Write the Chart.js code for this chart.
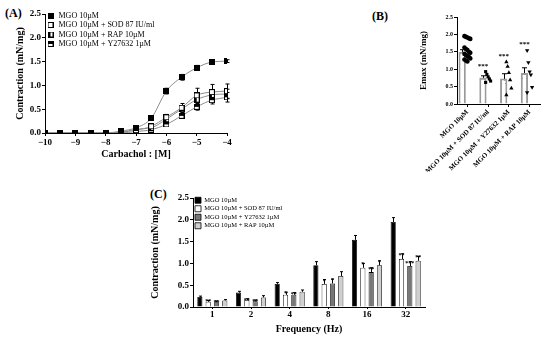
<!DOCTYPE html>
<html>
<head>
<meta charset="utf-8">
<script src="https://cdn.jsdelivr.net/npm/chart.js@4.4.0/dist/chart.umd.min.js"></script>
<style>
  body { margin: 0; width: 550px; height: 338px; position: relative; overflow: hidden; background: #fff; font-family: 'Liberation Serif', 'Times New Roman', serif; }
  canvas { position: absolute; }
  .tag { position: absolute; font-weight: bold; font-size: 12px; line-height: 12px; }
</style>
</head>
<body>
<div class="tag" style="left:5px;top:7px">(A)</div>
<div class="tag" style="left:372px;top:10px">(B)</div>
<div class="tag" style="left:150px;top:188px">(C)</div>
<canvas id="chartA" width="240" height="162" style="left:0;top:0"></canvas>
<canvas id="chartB" width="180" height="172" style="left:370px;top:0"></canvas>
<canvas id="chartC" width="310" height="153" style="left:130px;top:185px"></canvas>
<script>
// ---- panel A: concentration-response curves ----
const concA = [-10, -9.5, -9, -8.5, -8, -7.5, -7, -6.5, -6, -5.5, -5, -4.5, -4];
const mgoA = [0, 0, 0, 0, 0, 0.04, 0.11, 0.31, 0.88, 1.17, 1.37, 1.49, 1.51];
const mgoAErr = [0, 0, 0, 0, 0.01, 0.02, 0.03, 0.04, 0.06, 0.06, 0.05, 0.03, 0.03];
const sodA = [0, 0, 0, 0, 0, 0.02, 0.06, 0.14, 0.33, 0.53, 0.79, 0.86, 0.88];
const sodAErr = [0, 0, 0, 0, 0, 0.01, 0.02, 0.04, 0.06, 0.09, 0.15, 0.16, 0.15];
const rapA = [0, 0, 0, 0, 0, 0.01, 0.08, 0.11, 0.29, 0.5, 0.7, 0.8, 0.82];
const rapAErr = [0, 0, 0, 0, 0, 0.01, 0.02, 0.03, 0.05, 0.07, 0.1, 0.1, 0.1];
const y276A = [0, 0, 0, 0, 0, 0, 0.03, 0.07, 0.18, 0.36, 0.55, 0.69, 0.75];
const y276AErr = [0, 0, 0, 0, 0, 0, 0.01, 0.02, 0.04, 0.05, 0.07, 0.08, 0.1];

// ---- panel B: Emax per group ----
const groupsB = ['MGO 10µM', 'MGO 10µM + SOD 87 IU/ml', 'MGO 10µM + Y27632 1µM', 'MGO 10µM + RAP 10µM'];
const meanB = [1.5, 0.76, 0.73, 0.89];
const semB = [0.06, 0.05, 0.14, 0.15];
const ptsMgoB = [1.95, 1.93, 1.91, 1.89, 1.87, 1.62, 1.58, 1.55, 1.5, 1.47, 1.44, 1.41, 1.38, 1.35, 1.31, 1.28, 1.25, 1.22];
const ptsSodB = [0.93, 0.85, 0.78, 0.72, 0.66, 0.62];
const ptsY276B = [1.21, 1.08, 0.9, 0.69, 0.45, 0.26];
const ptsRapB = [1.54, 1.19, 0.93, 0.84, 0.48, 0.33];
const starsB = ['', '***', '***', '***'];

// ---- panel C: frequency response ----
const freqC = ['1', '2', '4', '8', '16', '32'];
const mgoC = [0.23, 0.33, 0.53, 0.96, 1.54, 1.95];
const mgoCErr = [0.02, 0.03, 0.03, 0.08, 0.1, 0.1];
const sodC = [0.12, 0.16, 0.28, 0.53, 0.9, 1.1];
const sodCErr = [0.03, 0.03, 0.06, 0.1, 0.1, 0.12];
const y276C = [0.11, 0.13, 0.28, 0.54, 0.8, 0.94];
const y276CErr = [0.03, 0.03, 0.05, 0.1, 0.1, 0.1];
const rapC = [0.15, 0.22, 0.35, 0.71, 0.96, 1.06];
const rapCErr = [0.02, 0.04, 0.04, 0.1, 0.1, 0.1];
const sodCStars = ['**', '**', '*', '*', '*', '**'];
const y276CStars = ['**', '**', '**', '*', '**', '***'];
const rapCStars = ['', '', '', '', '*', '**'];

const SERIF = "'Liberation Serif', 'Times New Roman', serif";
Chart.defaults.font.family = SERIF;
Chart.defaults.color = '#000';

// small square markers like the prism symbols
function marker(kind) {
    const s = 6;
    const c = document.createElement('canvas');
    c.width = s; c.height = s;
    const g = c.getContext('2d');
    g.fillStyle = '#fff';
    g.fillRect(0, 0, s, s);
    g.fillStyle = '#000';
    if (kind === 'filled') g.fillRect(0, 0, s, s);
    if (kind === 'half') g.fillRect(0, 0, 3, s);
    if (kind === 'band') g.fillRect(0, 0, s, 3);
    g.strokeStyle = '#000';
    g.lineWidth = 1;
    g.strokeRect(0.5, 0.5, s - 1, s - 1);
    return c;
}

function valueOf(d) {
    return (d !== null && typeof d === 'object') ? d.y : d;
}

// error bars drawn through the y scale
const errorBars = {
    id: 'errorBars',
    beforeDatasetsDraw(chart) {
        const ctx = chart.ctx;
        chart.data.datasets.forEach((ds, i) => {
            if (!ds.errors) return;
            const meta = chart.getDatasetMeta(i);
            const ys = chart.scales[meta.yAxisID];
            const cap = ds.errorCap || 2;
            ctx.save();
            ctx.strokeStyle = ds.errorColor || '#000';
            ctx.lineWidth = 1;
            meta.data.forEach((el, j) => {
                const err = ds.errors[j];
                if (!err) return;
                const v = valueOf(ds.data[j]);
                const x = Math.round(el.x) + 0.5;
                const top = ys.getPixelForValue(v + err);
                const bottom = ds.errorUp ? ys.getPixelForValue(v) : ys.getPixelForValue(Math.max(0, v - err));
                ctx.beginPath();
                ctx.moveTo(x, top);
                ctx.lineTo(x, bottom);
                ctx.moveTo(x - cap, top);
                ctx.lineTo(x + cap, top);
                if (!ds.errorUp) {
                    ctx.moveTo(x - cap, bottom);
                    ctx.lineTo(x + cap, bottom);
                }
                ctx.stroke();
            });
            ctx.restore();
        });
    }
};

// significance asterisks
const starMarks = {
    id: 'starMarks',
    afterDatasetsDraw(chart) {
        const ctx = chart.ctx;
        chart.data.datasets.forEach((ds, i) => {
            if (!ds.stars) return;
            const meta = chart.getDatasetMeta(i);
            const ys = chart.scales[meta.yAxisID];
            ctx.save();
            ctx.fillStyle = '#000';
            ctx.font = 'bold ' + (ds.starSize || 7) + 'px ' + SERIF;
            ctx.textAlign = 'center';
            ctx.textBaseline = 'alphabetic';
            meta.data.forEach((el, j) => {
                const s = ds.stars[j];
                if (!s) return;
                const base = ds.starBase ? ds.starBase[j] : valueOf(ds.data[j]) + (ds.errors ? ds.errors[j] : 0);
                ctx.fillText(s, el.x, ys.getPixelForValue(base) + (ds.starShift || 0));
            });
            ctx.restore();
        });
    }
};

// nudge the in-plot legend
const legendNudge = {
    id: 'legendNudge',
    beforeDraw(chart, args, opts) {
        if (chart.legend && opts.dy !== undefined) {
            const h = chart.legend.bottom - chart.legend.top;
            chart.legend.top = chart.chartArea.top + opts.dy;
            chart.legend.bottom = chart.legend.top + h;
        }
    }
};

function axisStyle(size) {
    return {
        grid: { drawOnChartArea: false, color: '#000', tickLength: 3 },
        border: { color: '#000', width: 1 },
        ticks: { font: { size: size, weight: 'bold' }, padding: 1 }
    };
}

// ---------- A ----------
function curve(label, values, errs, kind) {
    return {
        label: label,
        data: concA.map((c, i) => ({ x: c, y: values[i] })),
        errors: errs,
        borderColor: '#8c8c8c',
        borderWidth: 1,
        pointStyle: marker(kind),
        cubicInterpolationMode: 'monotone',
        fill: false
    };
}

const axA = axisStyle(9);
const ayA = axisStyle(9);
new Chart(document.getElementById('chartA'), {
    type: 'line',
    data: {
        datasets: [
            curve('MGO 10µM', mgoA, mgoAErr, 'filled'),
            curve('MGO 10µM + SOD 87 IU/ml', sodA, sodAErr, 'open'),
            curve('MGO 10µM + RAP 10µM', rapA, rapAErr, 'half'),
            curve('MGO 10µM + Y27632 1µM', y276A, y276AErr, 'band')
        ]
    },
    options: {
        responsive: false,
        animation: false,
        events: [],
        layout: { padding: { left: 8, top: 14, right: 13, bottom: 0 } },
        scales: {
            x: Object.assign(axA, {
                type: 'linear', min: -10, max: -4,
                ticks: Object.assign(axA.ticks, {
                    stepSize: 1,
                    callback: v => (v < 0 ? '\u2212' + Math.abs(v) : String(v))
                }),
                title: { display: true, text: 'Carbachol : [M]', font: { size: 10, weight: 'bold' }, padding: { top: 0, bottom: 2 } },
                afterFit(s) { s.height = 29; }
            }),
            y: Object.assign(ayA, {
                min: 0, max: 2.5,
                ticks: Object.assign(ayA.ticks, { stepSize: 0.5, callback: v => v.toFixed(1) }),
                title: { display: true, text: 'Contraction (mN/mg)', font: { size: 10, weight: 'bold' }, padding: { top: 6, bottom: 0 } },
                afterFit(s) { s.width = 37; }
            })
        },
        plugins: {
            legend: {
                position: 'chartArea', align: 'start',
                labels: { usePointStyle: true, boxWidth: 8, padding: 1.5, font: { size: 8 } }
            },
            legendNudge: { dy: -4 },
            tooltip: { enabled: false }
        }
    },
    plugins: [errorBars, legendNudge]
});

// ---------- B ----------
function spread(values, g, w) {
    return values.map((v, k) => ({ x: g + ((k % 5) - 2) * w, y: v }));
}

const axB = axisStyle(6);
const ayB = axisStyle(6);
new Chart(document.getElementById('chartB'), {
    data: {
        labels: groupsB,
        datasets: [
            {
                type: 'bar', data: meanB, errors: semB, errorCap: 2.5,
                backgroundColor: '#fff', borderColor: '#9a9a9a', borderWidth: 2,
                barPercentage: 0.7, categoryPercentage: 1, order: 10,
                stars: starsB, starSize: 7, starShift: -4,
                starBase: [0, Math.max(...ptsSodB), Math.max(...ptsY276B), Math.max(...ptsRapB)]
            },
            { type: 'scatter', xAxisID: 'xs', data: spread(ptsMgoB, 0, 0.07), pointStyle: 'circle', pointRadius: 2.3, backgroundColor: '#000', borderColor: '#000', borderWidth: 0 },
            { type: 'scatter', xAxisID: 'xs', data: spread(ptsSodB, 1, 0.06), pointStyle: 'rect', pointRadius: 2.2, backgroundColor: '#000', borderColor: '#000', borderWidth: 0 },
            { type: 'scatter', xAxisID: 'xs', data: spread(ptsY276B, 2, 0.06), pointStyle: 'triangle', pointRadius: 2.5, backgroundColor: '#000', borderColor: '#000', borderWidth: 0 },
            { type: 'scatter', xAxisID: 'xs', data: spread(ptsRapB, 3, 0.06), pointStyle: 'triangle', rotation: 180, pointRadius: 2.5, backgroundColor: '#000', borderColor: '#000', borderWidth: 0 }
        ]
    },
    options: {
        responsive: false,
        animation: false,
        events: [],
        layout: { padding: { left: 42, top: 17, right: 10, bottom: 0 } },
        scales: {
            x: Object.assign(axB, {
                type: 'category', offset: true,
                grid: { drawOnChartArea: false, color: '#000', tickLength: 3, offset: false },
                ticks: { font: { size: 7, weight: 'bold' }, minRotation: 45, maxRotation: 45, autoSkip: false, padding: 1 },
                afterFit(s) { s.height = 68; }
            }),
            xs: { type: 'linear', axis: 'x', position: 'bottom', min: -0.5, max: 3.5, display: false },
            y: Object.assign(ayB, {
                min: 0, max: 2.5,
                ticks: Object.assign(ayB.ticks, { stepSize: 0.5, callback: v => v.toFixed(1) }),
                title: { display: true, text: 'Emax (mN/mg)', font: { size: 9, weight: 'bold' }, padding: { top: 6, bottom: 0 } },
                afterFit(s) { s.width = 45; }
            })
        },
        plugins: { legend: { display: false }, tooltip: { enabled: false } }
    },
    plugins: [errorBars, starMarks]
});

// ---------- C ----------
function barSet(label, values, errs, fill, stars) {
    return {
        label: label, data: values, errors: errs, errorUp: true, errorCap: 1.5,
        backgroundColor: fill, borderColor: '#000', borderWidth: 0.8,
        stars: stars, starSize: 6, starShift: 3
    };
}

const axC = axisStyle(9);
const ayC = axisStyle(9);
new Chart(document.getElementById('chartC'), {
    type: 'bar',
    data: {
        labels: freqC,
        datasets: [
            barSet('MGO 10µM', mgoC, mgoCErr, '#000', null),
            barSet('MGO 10µM + SOD 87 IU/ml', sodC, sodCErr, '#fff', sodCStars),
            barSet('MGO 10µM + Y27632 1µM', y276C, y276CErr, '#777', y276CStars),
            barSet('MGO 10µM + RAP 10µM', rapC, rapCErr, '#cfcfcf', rapCStars)
        ]
    },
    options: {
        responsive: false,
        animation: false,
        events: [],
        layout: { padding: { left: 15, top: 13, right: 15, bottom: 0 } },
        datasets: { bar: { categoryPercentage: 0.86, barPercentage: 0.62 } },
        scales: {
            x: Object.assign(axC, {
                grid: { drawOnChartArea: false, color: '#000', tickLength: 2, offset: false },
                ticks: { font: { size: 9, weight: 'bold' }, padding: 0 },
                title: { display: true, text: 'Frequency (Hz)', font: { size: 10, weight: 'bold' }, padding: { top: 0, bottom: 3 } },
                afterFit(s) { s.height = 31; }
            }),
            y: Object.assign(ayC, {
                min: 0, max: 2.5,
                ticks: Object.assign(ayC.ticks, { stepSize: 0.5, callback: v => v.toFixed(1) }),
                title: { display: true, text: 'Contraction (mN/mg)', font: { size: 10, weight: 'bold' }, padding: { top: 4, bottom: 0 } },
                afterFit(s) { s.width = 48; }
            })
        },
        plugins: {
            legend: {
                position: 'chartArea', align: 'start',
                labels: { boxWidth: 6, boxHeight: 6, padding: 2, font: { size: 6.5 } }
            },
            legendNudge: { dy: -3 },
            tooltip: { enabled: false }
        }
    },
    plugins: [errorBars, starMarks, legendNudge]
});
</script>
</body>
</html>
